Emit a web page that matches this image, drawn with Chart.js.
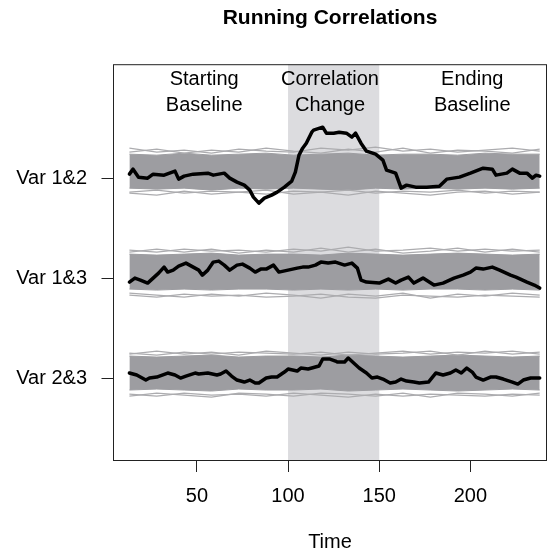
<!DOCTYPE html>
<html>
<head>
<meta charset="utf-8">
<script src="https://cdn.jsdelivr.net/npm/chart.js@4"></script>
<style>
  body { margin: 0; background: #fff; }
  #wrap { width: 550px; height: 552px; }
</style>
</head>
<body>
<div id="wrap"><canvas id="chart"></canvas></div>
<script>
// Axis labels and ticks
const yLabels = ['Var 1&2', 'Var 1&3', 'Var 2&3'];
const yLevels = [3, 2, 1];
const xTicks = [50, 100, 150, 200];
const shadeRange = [100, 150];
const regionX = [54, 123, 201];
const regionText = [['Starting', 'Baseline'], ['Correlation', 'Change'], ['Ending', 'Baseline']];

// Black running-correlation lines (time, plotted value)
const t12 = [13,15,18,23,26,32,38,40,43,48, 56,59,65,68,72,76,79,81,84,87, 91,94,98,102,104,106,108,110,113,114,
  119,121,125,128,132,135,137,140,143,148, 152,154,159,162,165,170,176,183,187,194, 200,207,212,214,220,223,227,231,234,236, 238];
const v12 = [3.04,3.09,3.01,3.00,3.04,3.03,3.07,2.99,3.02,3.04, 3.05,3.03,3.05,3.00,2.96,2.93,2.88,2.81,2.75,2.80,
  2.83,2.86,2.91,2.97,3.06,3.23,3.30,3.35,3.46,3.48, 3.51,3.45,3.45,3.46,3.45,3.41,3.45,3.35,3.27,3.24,
  3.18,3.08,3.05,2.90,2.93,2.91,2.91,2.92,2.99,3.01, 3.05,3.10,3.09,3.03,3.05,3.09,3.05,3.05,3.00,3.03, 3.02];

const t13 = [13,16,19,23,26,29,32,34,37,40, 44,48,51,53,56,59,62,65,68,72, 75,79,82,85,88,92,95,100,105,108,
  111,115,118,122,126,131,135,138,140,143, 150,155,159,162,166,169,174,180,185,191, 196,200,203,207,212,216,222,225,231,235, 238];
const v13 = [1.96,2.00,1.98,1.95,2.00,2.05,2.11,2.06,2.08,2.12, 2.15,2.11,2.08,2.03,2.08,2.16,2.17,2.13,2.08,2.13,
  2.14,2.10,2.06,2.09,2.09,2.13,2.06,2.08,2.10,2.11, 2.11,2.13,2.16,2.15,2.16,2.13,2.15,2.10,1.98,1.96,
  1.95,1.99,1.95,1.98,2.01,1.95,2.00,1.93,1.95,2.00, 2.03,2.06,2.10,2.09,2.11,2.08,2.03,2.01,1.96,1.93, 1.90];

const t23 = [13,17,22,24,28,34,38,41,44,49, 51,56,61,63,66,69,72,76,79,82, 84,88,91,94,98,100,105,107,111,115,
  117,119,123,126,127,131,133,136,139,143, 146,149,152,156,159,162,165,169,172,177, 181,185,189,192,195,198,201,203,207,211,
  214,218,223,226,229,233,238];
const v23 = [1.05,1.03,0.98,1.00,1.01,1.05,1.03,1.00,1.02,1.05, 1.04,1.05,1.03,1.04,1.07,1.02,0.98,0.96,0.98,0.95,
  0.95,1.00,1.01,1.01,1.06,1.09,1.07,1.10,1.09,1.11, 1.12,1.19,1.19,1.17,1.16,1.16,1.20,1.15,1.10,1.05,
  1.00,1.01,0.99,0.95,0.96,0.99,0.97,0.96,0.95,0.96, 1.05,1.03,1.05,1.08,1.05,1.10,1.06,1.01,0.98,1.01,
  1.01,0.99,0.96,0.94,0.98,1.00,1.00];

// Gray null-distribution bands: dense core plus two ragged edge traces per side
const bandTime = [13,28,43,58,73,88,103,118,133,148,163,178,193,208,223,238];
const b12TopA  = [3.30,3.26,3.28,3.25,3.29,3.27,3.26,3.30,3.28,3.31,3.27,3.29,3.26,3.28,3.30,3.27];
const b12TopB  = [3.26,3.29,3.25,3.28,3.26,3.30,3.27,3.25,3.29,3.26,3.30,3.25,3.28,3.27,3.25,3.29];
const b12CoreTop = [3.24,3.23,3.25,3.23,3.24,3.25,3.23,3.24,3.25,3.23,3.24,3.24,3.23,3.25,3.24,3.24];
const b12CoreBot = [2.90,2.89,2.90,2.88,2.90,2.89,2.90,2.89,2.88,2.90,2.89,2.90,2.89,2.90,2.89,2.90];
const b12BotA  = [2.86,2.88,2.85,2.87,2.86,2.84,2.87,2.86,2.88,2.85,2.87,2.86,2.88,2.85,2.87,2.86];
const b12BotB  = [2.85,2.83,2.87,2.84,2.86,2.88,2.84,2.86,2.83,2.87,2.85,2.83,2.86,2.87,2.84,2.86];
const b13TopA  = [2.28,2.26,2.29,2.27,2.28,2.26,2.29,2.27,2.31,2.27,2.28,2.30,2.27,2.29,2.27,2.28];
const b13TopB  = [2.26,2.29,2.26,2.29,2.25,2.28,2.26,2.30,2.26,2.29,2.25,2.27,2.30,2.26,2.29,2.26];
const b13CoreTop = [2.24,2.23,2.24,2.25,2.23,2.24,2.24,2.23,2.25,2.24,2.23,2.24,2.25,2.24,2.23,2.24];
const b13CoreBot = [1.89,1.88,1.89,1.88,1.89,1.89,1.88,1.89,1.88,1.89,1.88,1.89,1.89,1.88,1.89,1.88];
const b13BotA  = [1.83,1.81,1.84,1.82,1.83,1.81,1.82,1.84,1.81,1.80,1.83,1.82,1.81,1.83,1.82,1.81];
const b13BotB  = [1.85,1.83,1.81,1.84,1.82,1.85,1.83,1.80,1.84,1.82,1.85,1.80,1.84,1.82,1.85,1.83];
const b23TopA  = [1.25,1.23,1.26,1.24,1.26,1.25,1.24,1.26,1.23,1.25,1.27,1.24,1.26,1.25,1.27,1.24];
const b23TopB  = [1.24,1.27,1.24,1.26,1.23,1.27,1.25,1.23,1.26,1.24,1.25,1.27,1.23,1.27,1.24,1.26];
const b23CoreTop = [1.22,1.21,1.22,1.23,1.21,1.22,1.22,1.21,1.23,1.22,1.21,1.22,1.23,1.22,1.21,1.22];
const b23CoreBot = [0.88,0.89,0.88,0.87,0.89,0.88,0.88,0.89,0.87,0.88,0.89,0.88,0.87,0.88,0.89,0.88];
const b23BotA  = [0.84,0.82,0.85,0.83,0.84,0.82,0.85,0.83,0.81,0.84,0.82,0.84,0.83,0.82,0.84,0.83];
const b23BotB  = [0.82,0.85,0.83,0.81,0.85,0.84,0.82,0.85,0.84,0.82,0.85,0.81,0.85,0.84,0.82,0.85];

const FONT = 'Liberation Sans, Arial, Helvetica, sans-serif';
const GRAY = 'rgb(157,157,161)';
const pts = (xs, ys) => xs.map((x, i) => ({ x, y: ys[i] }));

const black = (xs, ys) => ({
  data: pts(xs, ys), borderColor: '#000', borderWidth: 3.5, pointRadius: 0,
  borderJoinStyle: 'round', borderCapStyle: 'round', fill: false, order: 0
});
const edge = (ys) => ({
  data: pts(bandTime, ys), borderColor: 'rgb(172,172,175)', borderWidth: 1.2, pointRadius: 0,
  fill: false, order: 1
});
const core = (top, bot) => [
  { data: pts(bandTime, top), borderColor: GRAY, borderWidth: 1, pointRadius: 0,
    fill: '+1', backgroundColor: GRAY, order: 2 },
  { data: pts(bandTime, bot), borderColor: GRAY, borderWidth: 1, pointRadius: 0,
    fill: false, order: 2 }
];

const datasets = [
  black(t12, v12), black(t13, v13), black(t23, v23),
  edge(b12TopA), edge(b12TopB), edge(b12BotA), edge(b12BotB),
  edge(b13TopA), edge(b13TopB), edge(b13BotA), edge(b13BotB),
  edge(b23TopA), edge(b23TopB), edge(b23BotA), edge(b23BotB),
  ...core(b12CoreTop, b12CoreBot),
  ...core(b13CoreTop, b13CoreBot),
  ...core(b23CoreTop, b23CoreBot)
];

const decor = {
  id: 'decor',
  beforeDatasetsDraw(chart) {
    const { ctx, chartArea: a, scales: { x } } = chart;
    const x0 = x.getPixelForValue(shadeRange[0]);
    const x1 = x.getPixelForValue(shadeRange[1]);
    ctx.save();
    ctx.fillStyle = 'rgb(220,220,223)';
    ctx.fillRect(x0, a.top, x1 - x0, a.bottom - a.top);
    ctx.restore();
  },
  afterDatasetsDraw(chart) {
    const { ctx, scales: { x } } = chart;
    ctx.save();
    ctx.fillStyle = '#000';
    ctx.font = '20px ' + FONT;
    ctx.textAlign = 'center';
    ctx.textBaseline = 'middle';
    regionText.forEach((lines, i) => {
      const px = x.getPixelForValue(regionX[i]);
      lines.forEach((s, j) => ctx.fillText(s, px, 79 + j * 26));
    });
    ctx.restore();
  },
  afterDraw(chart) {
    const { ctx, chartArea: a } = chart;
    ctx.save();
    ctx.strokeStyle = '#222';
    ctx.lineWidth = 1;
    ctx.strokeRect(a.left + 0.5, a.top + 0.5, a.right - a.left - 1, a.bottom - a.top);
    ctx.restore();
  }
};

new Chart(document.getElementById('chart'), {
  type: 'line',
  data: { datasets },
  plugins: [decor],
  options: {
    responsive: true,
    maintainAspectRatio: false,
    animation: false,
    layout: { padding: { left: 0, right: 3, top: 0, bottom: 0 } },
    plugins: {
      legend: { display: false },
      tooltip: { enabled: false },
      title: {
        display: true, text: 'Running Correlations', fullSize: false, color: '#000',
        font: { family: FONT, size: 21, weight: 'bold' },
        padding: { top: 6, bottom: 33 }
      }
    },
    scales: {
      x: {
        type: 'linear', min: 4, max: 242,
        afterBuildTicks: s => { s.ticks = xTicks.map(v => ({ value: v })); },
        afterFit: s => { s.height = 92; },
        border: { display: false },
        grid: { drawOnChartArea: false, tickLength: 12, color: '#222', tickWidth: 1 },
        ticks: { color: '#000', font: { family: FONT, size: 20 }, padding: 12, maxRotation: 0 },
        title: { display: true, text: 'Time', color: '#000', font: { family: FONT, size: 20, lineHeight: 1 },
          padding: { top: 0, bottom: 0 } }
      },
      y: {
        type: 'linear', min: 0.18, max: 4.14,
        afterBuildTicks: s => { s.ticks = yLevels.map(v => ({ value: v })); },
        afterFit: s => { s.width = 113; },
        border: { display: false },
        grid: { drawOnChartArea: false, tickLength: 11.5, color: '#222', tickWidth: 1 },
        ticks: {
          color: '#000', font: { family: FONT, size: 20 }, padding: 14.5,
          callback: v => yLabels[yLevels.indexOf(v)]
        }
      }
    }
  }
});
</script>
</body>
</html>
